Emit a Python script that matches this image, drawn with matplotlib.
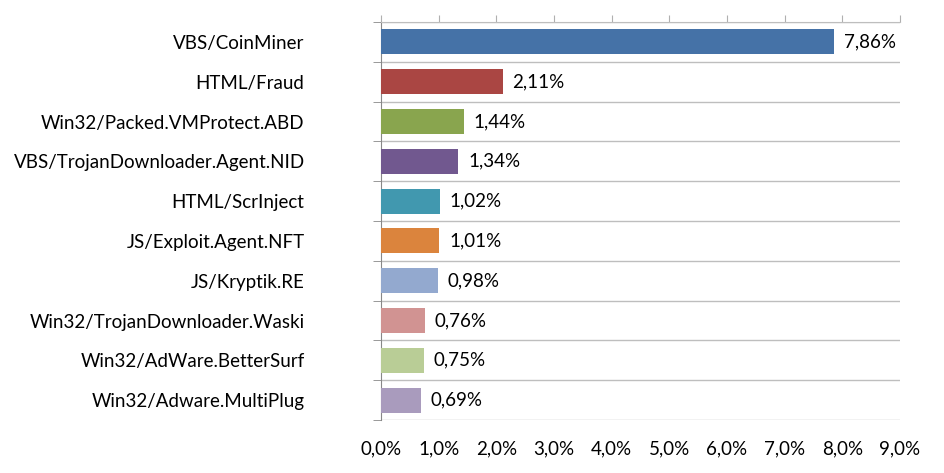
import matplotlib
matplotlib.use('Agg')
import matplotlib.pyplot as plt
import numpy as np

plt.rcParams['font.family'] = ['Lato', 'DejaVu Sans']

# data
categories = ['VBS/CoinMiner', 'HTML/Fraud', 'Win32/Packed.VMProtect.ABD',
              'VBS/TrojanDownloader.Agent.NID', 'HTML/ScrInject',
              'JS/Exploit.Agent.NFT', 'JS/Kryptik.RE',
              'Win32/TrojanDownloader.Waski', 'Win32/AdWare.BetterSurf',
              'Win32/Adware.MultiPlug']
values = [7.86, 2.11, 1.44, 1.34, 1.02, 1.01, 0.98, 0.76, 0.75, 0.69]
value_labels = ['7,86%', '2,11%', '1,44%', '1,34%', '1,02%', '1,01%', '0,98%',
                '0,76%', '0,75%', '0,69%']
colors = ['#4572A7', '#AA4643', '#89A54E', '#71588F', '#4198AF', '#DB843D',
          '#93A9CF', '#D19392', '#B9CD96', '#A99BBD']
x_ticks = [0, 1, 2, 3, 4, 5, 6, 7, 8, 9]
x_tick_labels = ['0,0%', '1,0%', '2,0%', '3,0%', '4,0%', '5,0%', '6,0%',
                 '7,0%', '8,0%', '9,0%']

fs = 13.5

fig = plt.figure(figsize=(9.45, 4.73), dpi=100)
ax = fig.add_axes([381 / 945, 1 - 420 / 473, (900 - 381) / 945, (420 - 22) / 473])

ypos = np.arange(len(categories))
ax.barh(ypos, values, height=0.63, color=colors, zorder=3)

for y, v, lab in zip(ypos, values, value_labels):
    ax.annotate(lab, xy=(v, y), xytext=(7, 0), textcoords='offset points',
                va='center', ha='left', fontsize=fs, color='black')

ax.set_xlim(0, 9)
ax.set_ylim(len(categories) - 0.5, -0.5)

ax.set_xticks(x_ticks)
ax.set_xticklabels(x_tick_labels, fontsize=fs)
ax.tick_params(axis='x', top=True, bottom=False, labeltop=False, labelbottom=True,
               direction='out', length=5, color='#B0B0B0', pad=10)

ax.set_yticks(ypos)
ax.set_yticklabels(categories, fontsize=fs)
ax.set_yticks(np.arange(len(categories) + 1) - 0.5, minor=True)
ax.tick_params(axis='y', which='major', length=0, pad=55)
ax.tick_params(axis='y', which='minor', length=6, color='#888888', direction='out')
ax.grid(axis='y', which='minor', color='#BEBEBE', linewidth=1, zorder=0)

for side in ['right', 'bottom']:
    ax.spines[side].set_visible(False)
ax.spines['top'].set_color('#BEBEBE')
ax.spines['left'].set_color('#888888')

fig.savefig('out.png', dpi=100)
